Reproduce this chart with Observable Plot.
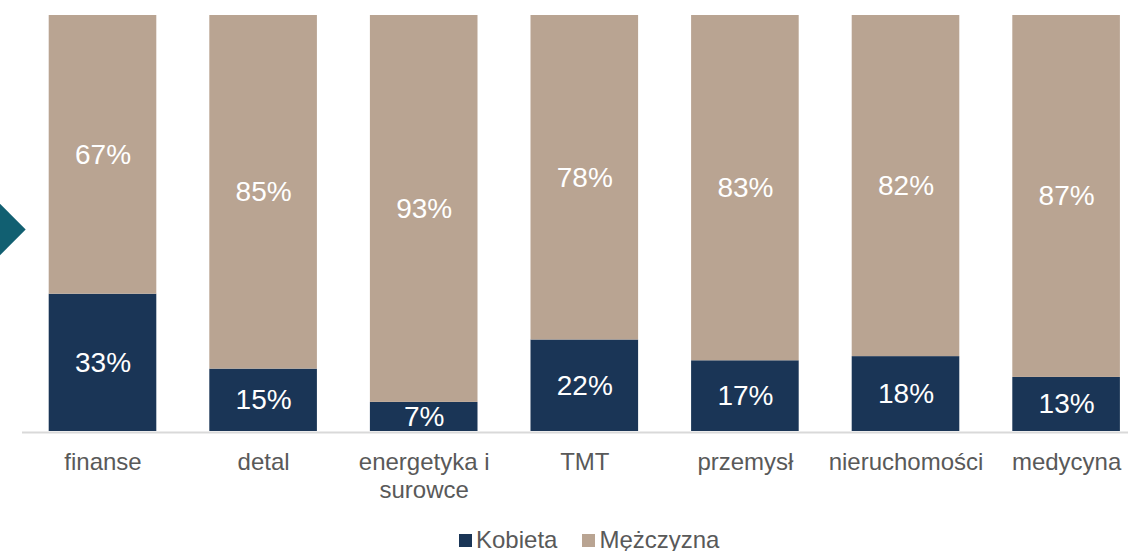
<!DOCTYPE html>
<html>
<head>
<meta charset="utf-8">
<script src="https://cdn.jsdelivr.net/npm/d3@7"></script>
<script src="https://cdn.jsdelivr.net/npm/@observablehq/plot@0.6"></script>
<style>
  html, body { margin: 0; padding: 0; background: #fff; }
  body { width: 1128px; height: 551px; overflow: hidden; position: relative; font-family: "Liberation Sans", Arial, sans-serif; }
  #arrow { position: absolute; width: 37px; height: 37px; background: #115f71; left: -19.5px; top: 210.5px; transform: rotate(45deg); }
  #chart { position: absolute; left: 0; top: 0; }
  #legend { position: absolute; left: 459px; top: 526px; display: flex; align-items: center; font-size: 24px; color: #595959; line-height: 28px; }
  #legend .sw { display: inline-block; width: 13px; height: 13px; margin-right: 4px; }
  #legend .item { display: flex; align-items: center; margin-right: 25px; }
</style>
</head>
<body>
<div id="chart"></div>
<div id="arrow"></div>
<div id="legend"></div>
<script>
const categories = ["finanse", "detal", "energetyka i surowce", "TMT", "przemysł", "nieruchomości", "medycyna"];
const tickLabels = ["finanse", "detal", "energetyka i\nsurowce", "TMT", "przemysł", "nieruchomości", "medycyna"];
const series = ["Kobieta", "Mężczyzna"];
const kobieta = [33, 15, 7, 22, 17, 18, 13];
const mezczyzna = [67, 85, 93, 78, 83, 82, 87];
const colors = ["#1a3556", "#b9a492"];

const data = [];
categories.forEach((c, i) => {
  data.push({cat: c, series: series[0], value: kobieta[i]});
  data.push({cat: c, series: series[1], value: mezczyzna[i]});
});

const chart = Plot.plot({
  width: 1128,
  height: 515,
  marginTop: 15,
  marginBottom: 84,
  marginLeft: 22,
  marginRight: 0,
  style: {fontFamily: "Liberation Sans, Arial, sans-serif", background: "#fff"},
  x: {domain: categories, range: [22.2, 1146.4], paddingInner: 0.33, paddingOuter: 0.165, round: false, label: null},
  y: {domain: [0, 100], axis: null},
  color: {domain: series, range: colors},
  marks: [
    Plot.barY(data, Plot.stackY({x: "cat", y: "value", fill: "series", order: series})),
    Plot.ruleY([0], {stroke: "#d9d9d9", strokeWidth: 2, dy: 1}),
    Plot.text(data, Plot.stackY({x: "cat", y: "value", z: "series", order: series, text: d => d.value + "%", fill: "white", fontSize: 28})),
    Plot.axisX({tickSize: 0, tickPadding: 19, fontSize: 24, lineHeight: 1.15, fill: "#595959", label: null,
      tickFormat: d => tickLabels[categories.indexOf(d)]})
  ]
});
document.getElementById("chart").appendChild(chart);

const legend = document.getElementById("legend");
series.forEach((s, i) => {
  const item = document.createElement("div");
  item.className = "item";
  const sw = document.createElement("span");
  sw.className = "sw";
  sw.style.background = colors[i];
  item.appendChild(sw);
  item.appendChild(document.createTextNode(s));
  legend.appendChild(item);
});
</script>
</body>
</html>
